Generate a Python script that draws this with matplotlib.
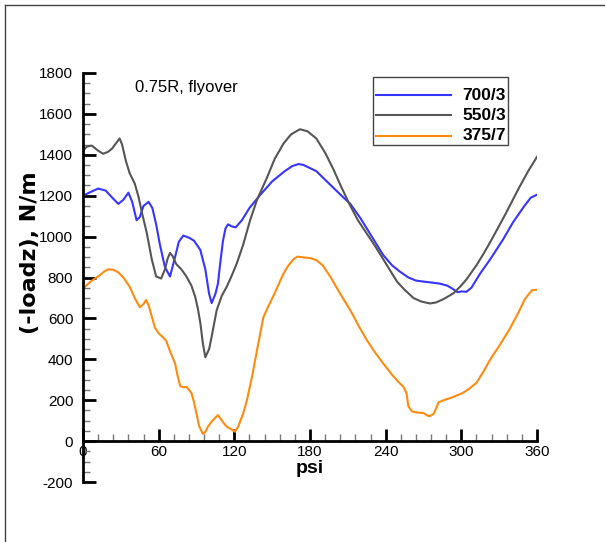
import matplotlib
matplotlib.use("Agg")
import matplotlib.pyplot as plt
from matplotlib.lines import Line2D
from matplotlib.patches import Rectangle
from matplotlib.ticker import MultipleLocator

plt.rcParams['font.family'] = ['Liberation Sans', 'DejaVu Sans']
plt.rcParams['axes.unicode_minus'] = False

# 700/3
psi_blue = [0, 5, 12, 18, 24, 28, 32, 36, 39, 42.5, 45, 48, 52, 55, 58, 61, 65, 69, 73, 76,
            79.5, 84, 88, 93, 97, 100, 102, 105, 107, 109, 111, 113, 115, 118, 121, 126, 132,
            140, 150, 160, 166, 171, 175, 180, 185, 195, 205, 212, 220, 230, 238, 245, 251,
            258, 264, 270, 277, 283, 289, 293, 297, 300, 304, 308, 315, 323, 333, 341, 350,
            355, 360]
val_blue = [1200, 1215, 1235, 1225, 1185, 1160, 1180, 1215, 1170, 1080, 1095, 1150, 1170, 1140,
            1060, 960, 850, 805, 900, 975, 1005, 995, 980, 935, 840, 720, 675, 720, 770, 880,
            980, 1040, 1060, 1050, 1045, 1080, 1140, 1200, 1270, 1320, 1345, 1355, 1350, 1335,
            1320, 1260, 1200, 1160, 1090, 990, 910, 860, 830, 800, 785, 780, 775, 770, 760,
            745, 728, 732, 730, 750, 820, 890, 985, 1070, 1150, 1190, 1205]

# 550/3
psi_gray = [0, 3, 7, 12, 16, 20, 23, 26, 29, 31, 34, 37, 41, 44, 47, 50.5, 54.5, 58, 62, 65,
            67, 69, 71, 74, 78, 82, 86, 89, 91, 93, 95, 97, 100, 102, 106, 110, 114, 118, 122,
            127, 132.5, 138, 146, 152, 159, 165, 172, 178, 185, 192, 198.5, 205, 212, 218, 225,
            232, 238, 243, 249, 255, 262, 268, 275, 280, 286, 293.6, 299, 304, 312, 318, 324,
            335, 345, 353, 360]
val_gray = [1420, 1440, 1445, 1420, 1405, 1415, 1430, 1455, 1480, 1450, 1370, 1310, 1260, 1195,
            1110, 1020, 890, 805, 795, 840, 890, 920, 905, 865, 840, 805, 760, 705, 650, 580,
            480, 410, 450, 510, 640, 710, 755, 810, 870, 960, 1080, 1180, 1290, 1380, 1455,
            1500, 1525, 1515, 1480, 1410, 1330, 1240, 1150, 1080, 1015, 950, 890, 840, 780,
            740, 700, 683, 673, 678, 695, 722, 755, 790, 860, 920, 985, 1110, 1230, 1320, 1390]

# 375/7
psi_orange = [0, 6, 13.5, 17, 20, 24, 28, 32, 37, 41, 45, 48, 50, 52, 54.5, 57, 60, 63, 66, 69,
              73, 75, 77, 80, 82, 86, 88, 90, 92, 95, 97, 99, 102, 105, 107, 109, 112, 114, 117,
              120.5, 123, 127, 130, 134, 138, 143, 147, 151, 155, 159, 163, 167, 170, 175, 180,
              185, 190, 196, 204, 212, 218, 225, 232, 238, 245, 250, 254, 256.5, 258, 261, 265,
              270, 273, 275, 278, 280, 282, 286, 291, 296, 301, 306, 312, 318, 323, 330, 338,
              345, 350, 353, 356, 360]
val_orange = [745, 780, 812, 830, 840, 838, 825, 800, 755, 700, 655, 670, 690, 665, 610, 555,
              527, 510, 490, 440, 380, 320, 270, 262, 266, 235, 190, 135, 75, 35, 45, 70, 95,
              115, 127, 110, 85, 70, 60, 46, 70, 135, 200, 315, 445, 605, 660, 710, 765, 820,
              860, 890, 902, 898, 895, 885, 860, 805, 720, 640, 570, 494, 430, 380, 325, 290,
              266, 235, 170, 145, 140, 137, 125, 122, 133, 160, 190, 200, 210, 222, 235, 255,
              285, 345, 400, 465, 545, 625, 690, 715, 738, 740]

labels = ['700/3', '550/3', '375/7']
colors = ['#3535ff', '#555555', '#ff8a10']

W, H = 605, 542


def fx(x):
    return x / W


def fy(y):
    return 1 - y / H


fig = plt.figure(figsize=(6.05, 5.42), dpi=100)
ax = fig.add_axes([83 / W, 60 / H, 454 / W, 409 / H])

series = [(psi_blue, val_blue), (psi_gray, val_gray), (psi_orange, val_orange)]
for (xs, ys), c, lab in zip(series, colors, labels):
    ax.plot(xs, ys, color=c, lw=1.5, label=lab)

ax.set_xlim(0, 360)
ax.set_ylim(-200, 1800)

# tecplot style axes: left spine + x axis at y=0
ax.spines['top'].set_visible(False)
ax.spines['right'].set_visible(False)
ax.spines['left'].set_linewidth(2)
ax.spines['bottom'].set_linewidth(2)
ax.spines['bottom'].set_position(('data', 0))

ax.xaxis.set_major_locator(MultipleLocator(60))
ax.xaxis.set_minor_locator(MultipleLocator(12))
ax.yaxis.set_major_locator(MultipleLocator(200))
ax.yaxis.set_minor_locator(MultipleLocator(50))
ax.tick_params(which='both', direction='in', labelsize=11)
ax.tick_params(which='major', length=9, width=2)
ax.tick_params(which='minor', length=5, width=1, color='#777777')
ax.tick_params(axis='y', pad=7)
ax.tick_params(axis='x', pad=3)

ax.set_xlabel('psi', fontsize=14, fontweight='bold', va='top')
ax.xaxis.set_label_coords(fx(310), fy(460), transform=fig.transFigure)
ax.set_ylabel('(-loadz), N/m', fontsize=16, fontweight='bold', va='center',
              family=['DejaVu Sans'])
ax.yaxis.set_label_coords(fx(30), fy(253), transform=fig.transFigure)

ax.text(41, 1730, '0.75R, flyover', fontsize=12, va='center', ha='left')

# legend box, drawn by hand to match the tecplot layout
fig.add_artist(Rectangle((fx(373), fy(145)), (508 - 373) / W, (145 - 77) / H,
                         transform=fig.transFigure, facecolor='white', edgecolor='#444444', lw=1))
for c, lab, yrow in zip(colors, labels, [95, 115, 135.5]):
    fig.add_artist(Line2D([fx(376), fx(451)], [fy(yrow), fy(yrow)], transform=fig.transFigure,
                          color=c, lw=1.5))
    fig.text(fx(506), fy(yrow), lab, fontsize=12.5, fontweight='bold', ha='right', va='center')

# outer frame lines (top and left)
fig.add_artist(Line2D([fx(5), 1], [fy(5), fy(5)], transform=fig.transFigure,
                      color='#444444', lw=1))
fig.add_artist(Line2D([fx(5), fx(5)], [0, fy(5)], transform=fig.transFigure,
                      color='#444444', lw=1))

fig.savefig('out.png', dpi=100)
